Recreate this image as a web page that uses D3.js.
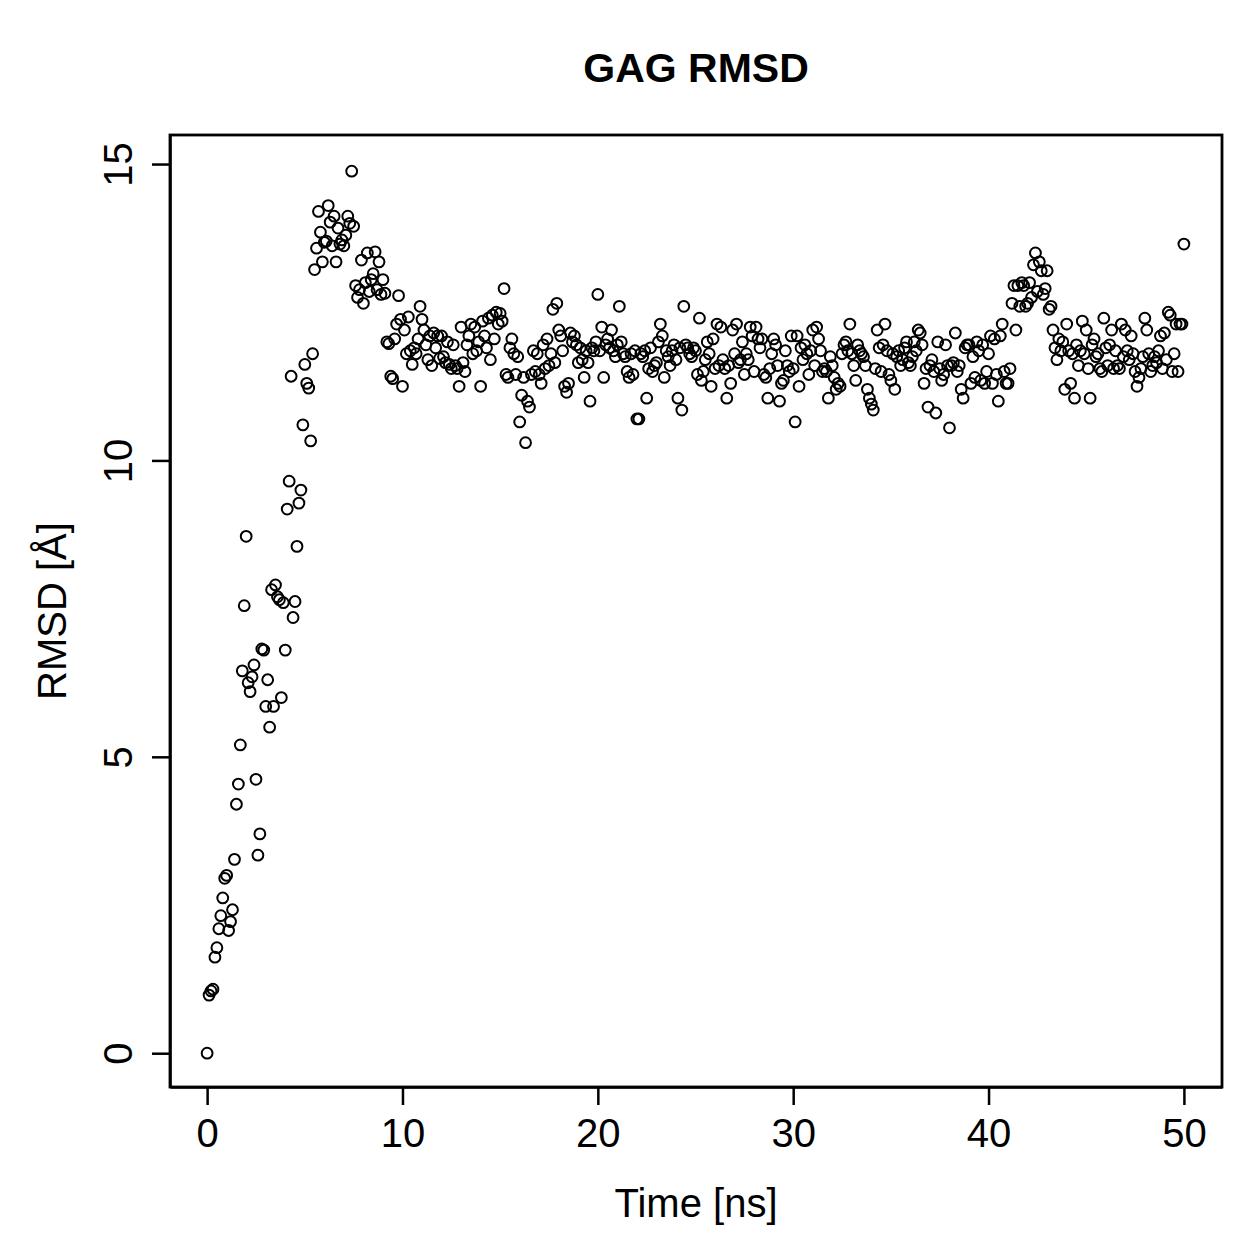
<!DOCTYPE html>
<html>
<head>
<meta charset="utf-8">
<script src="https://cdn.jsdelivr.net/npm/d3@7"></script>
<style>
  body { margin: 0; background: #fff; }
  text { font-family: "Liberation Sans", Arial, sans-serif; fill: #000; }
</style>
</head>
<body>
<div id="chart"></div>
<script>
// time step between frames (ns)
var timeStep = 0.1;

// RMSD values [A], 10 frames per row
var rmsd_0_10 = [
  0, 0.98, 1.05, 1.08, 1.62, 1.78, 2.1, 2.32, 2.62, 2.95,
  3.0, 2.07, 2.22, 2.42, 3.27, 4.2, 4.54, 5.2, 6.45, 7.55,
  8.72, 6.25, 6.1, 6.35, 6.55, 4.62, 3.34, 3.7, 6.82, 6.8,
  5.85, 6.3, 5.5, 7.82, 5.85, 7.9, 7.7, 7.65, 6.0, 7.6,
  6.8, 9.18, 9.65, 11.42, 7.35, 7.62, 8.55, 9.28, 9.5, 10.6,
  11.62, 11.3, 11.22, 10.33, 11.8, 13.22, 13.58, 14.2, 13.85, 13.35,
  13.68, 13.7, 14.3, 14.02, 13.62, 14.12, 13.35, 13.92, 13.65, 13.72,
  13.62, 13.8, 14.12, 14.0, 14.88, 13.95, 12.95, 12.75, 12.88, 13.38,
  12.65, 13.0, 13.5, 12.85, 13.05, 13.15, 13.52, 12.88, 13.35, 12.8,
  13.05, 12.82, 12.0, 11.97, 11.42, 11.38, 12.05, 12.3, 12.78, 12.38
];
var rmsd_10_20 = [
  11.25, 12.2, 11.8, 12.42, 11.85, 11.62, 11.9, 11.8, 12.05, 12.6,
  12.38, 12.2, 11.95, 11.7, 12.1, 11.6, 12.15, 11.9, 12.1, 11.72,
  12.1, 11.75, 11.65, 12.0, 11.62, 11.55, 11.95, 11.6, 11.55, 11.25,
  12.25, 11.65, 11.5, 11.95, 12.1, 12.3, 11.8, 12.25, 11.85, 12.0,
  11.25, 12.35, 12.1, 11.9, 12.4, 11.7, 12.45, 12.05, 12.5, 12.3,
  12.48, 12.35, 12.9, 11.45, 11.4, 11.9, 12.05, 11.8, 11.45, 11.75,
  10.65, 11.1, 11.4, 10.3, 11.0, 10.9, 11.45, 11.85, 11.5, 11.8,
  11.45, 11.3, 11.95, 11.55, 12.05, 11.6, 11.8, 12.55, 11.65, 12.65,
  12.2, 12.1, 11.85, 11.25, 11.15, 11.3, 12.15, 12.0, 12.1, 11.95,
  11.65, 11.9, 11.7, 11.4, 11.85, 11.65, 11.0, 11.9, 11.85, 12.0
];
var rmsd_20_30 = [
  12.8, 11.85, 12.25, 11.4, 11.95, 12.05, 11.9, 12.2, 11.85, 11.75,
  11.95, 12.6, 12.0, 11.8, 11.75, 11.5, 11.4, 11.8, 11.45, 11.85,
  10.7, 10.7, 11.8, 11.75, 11.85, 11.05, 11.55, 11.9, 11.5, 11.6,
  11.65, 12.0, 12.3, 12.1, 11.4, 11.85, 11.75, 11.6, 11.85, 11.95,
  11.7, 11.05, 11.9, 10.85, 12.6, 11.95, 11.9, 11.8, 11.75, 11.9,
  11.85, 11.45, 12.4, 11.35, 11.5, 11.7, 12.0, 11.8, 11.25, 12.05,
  11.55, 12.3, 11.6, 12.25, 11.7, 11.55, 11.05, 11.6, 11.3, 12.2,
  11.8, 12.3, 11.65, 11.7, 12.0, 11.45, 11.8, 11.7, 12.25, 12.1,
  11.5, 12.25, 12.05, 11.9, 12.05, 11.45, 11.4, 11.05, 11.55, 11.8,
  12.05, 11.95, 11.6, 11.0, 11.3, 11.35, 11.85, 11.6, 11.5, 12.1
];
var rmsd_30_40 = [
  11.55, 10.65, 12.1, 11.25, 11.9, 11.7, 11.95, 11.8, 11.45, 11.85,
  12.2, 11.6, 12.25, 12.05, 11.85, 11.5, 11.55, 11.5, 11.05, 11.75,
  11.6, 11.4, 11.2, 11.3, 11.25, 11.8, 11.95, 12.0, 11.85, 12.3,
  11.8, 11.6, 11.35, 11.95, 11.85, 11.8, 11.75, 11.6, 11.2, 11.05,
  10.95, 10.85, 11.55, 12.2, 11.9, 11.5, 11.95, 12.3, 11.85, 11.45,
  11.35, 11.8, 11.2, 11.75, 11.85, 11.6, 11.7, 11.9, 12.0, 11.65,
  11.6, 11.75, 12.0, 11.85, 12.2, 12.15, 11.95, 11.3, 11.55, 10.9,
  11.6, 11.7, 11.5, 10.8, 12.0, 11.55, 11.35, 11.45, 11.95, 11.6,
  10.55, 11.6, 11.65, 12.15, 11.5, 11.6, 11.2, 11.05, 11.9, 11.95,
  11.95, 11.3, 11.75, 11.4, 12.0, 11.85, 11.35, 11.95, 11.3, 11.5
];
var rmsd_40_50 = [
  11.8, 12.1, 11.3, 12.05, 11.45, 11.0, 12.1, 12.3, 11.5, 11.3,
  11.3, 11.55, 12.65, 12.95, 12.2, 12.95, 12.6, 13.0, 12.95, 12.6,
  12.65, 13.0, 12.75, 13.3, 13.5, 12.85, 13.35, 13.2, 12.8, 12.9,
  13.2, 12.55, 12.6, 12.2, 11.9, 11.7, 12.05, 11.85, 12.0, 11.2,
  12.3, 11.85, 11.3, 11.8, 11.05, 11.95, 11.6, 11.85, 12.35, 11.8,
  12.2, 11.55, 11.05, 11.95, 12.05, 11.75, 11.8, 11.55, 11.5, 12.4,
  11.9, 11.6, 11.95, 12.2, 11.55, 11.85, 11.6, 11.55, 12.3, 11.75,
  12.2, 11.85, 11.7, 12.1, 11.8, 11.5, 11.25, 11.4, 11.55, 11.75,
  12.4, 12.2, 11.8, 11.5, 11.6, 11.75, 11.65, 11.85, 12.1, 11.55,
  12.15, 11.7, 12.5, 12.45, 11.5, 11.8, 12.3, 11.5, 12.3, 12.3,
  13.65
];

var xTicks = [0, 10, 20, 30, 40, 50];
var yTicks = [0, 5, 10, 15];

var titleText = "GAG RMSD";
var xLabel = "Time [ns]";
var yLabel = "RMSD [\u00C5]";

// put the frames together
var data = rmsd_0_10.concat(rmsd_10_20, rmsd_20_30, rmsd_30_40, rmsd_40_50)
    .map(function(v, i) { return {time: +(i * timeStep).toFixed(1), rmsd: v}; });

// plot region
var width = 1259, height = 1259;
var box = {left: 170, top: 135, right: 1222, bottom: 1087};

// R style: axis limits padded a little past the data
var x = d3.scaleLinear().domain([-1.9, 51.95]).range([box.left, box.right]);
var y = d3.scaleLinear().domain([-0.57, 15.49]).range([box.bottom, box.top]);

var svg = d3.select("#chart").append("svg")
    .attr("width", width)
    .attr("height", height);

svg.append("rect")
    .attr("width", width)
    .attr("height", height)
    .style("fill", "#fff");

// points
svg.append("g")
    .selectAll("circle")
    .data(data)
    .enter()
    .append("circle")
    .attr("cx", function(d) { return x(d.time); })
    .attr("cy", function(d) { return y(d.rmsd); })
    .attr("r", 5.4)
    .style("fill", "none")
    .style("stroke", "#000")
    .style("stroke-width", 2);

// X axis
var xAxis = svg.append("g")
    .attr("transform", "translate(0," + box.bottom + ")")
    .call(d3.axisBottom(x)
        .tickValues(xTicks)
        .tickSize(18)
        .tickSizeOuter(0)
        .tickPadding(14)
        .tickFormat(d3.format("d")));

xAxis.selectAll("text")
    .style("font-size", "40px")
    .style("font-family", "'Liberation Sans', Arial, sans-serif");

// Y axis, labels rotated like R
var yAxis = svg.append("g")
    .attr("transform", "translate(" + box.left + ",0)")
    .call(d3.axisLeft(y)
        .tickValues(yTicks)
        .tickSize(18)
        .tickSizeOuter(0)
        .tickFormat(d3.format("d")));

yAxis.selectAll("text")
    .attr("x", 0)
    .attr("y", -38)
    .attr("dy", 0)
    .attr("transform", "rotate(-90)")
    .attr("text-anchor", "middle")
    .style("font-size", "40px")
    .style("font-family", "'Liberation Sans', Arial, sans-serif");

svg.selectAll(".domain, .tick line")
    .style("stroke", "#000")
    .style("stroke-width", 2.5);

// frame
svg.append("rect")
    .attr("x", box.left)
    .attr("y", box.top)
    .attr("width", box.right - box.left)
    .attr("height", box.bottom - box.top)
    .style("fill", "none")
    .style("stroke", "#000")
    .style("stroke-width", 2.8);

// title and axis labels
svg.append("text")
    .attr("x", (box.left + box.right) / 2)
    .attr("y", 82)
    .attr("text-anchor", "middle")
    .style("font-size", "41px")
    .style("font-weight", "bold")
    .text(titleText);

svg.append("text")
    .attr("x", (box.left + box.right) / 2)
    .attr("y", 1217)
    .attr("text-anchor", "middle")
    .style("font-size", "40px")
    .text(xLabel);

svg.append("text")
    .attr("transform", "translate(66," + (box.top + box.bottom) / 2 + ") rotate(-90)")
    .attr("text-anchor", "middle")
    .style("font-size", "40px")
    .text(yLabel);
</script>
</body>
</html>
